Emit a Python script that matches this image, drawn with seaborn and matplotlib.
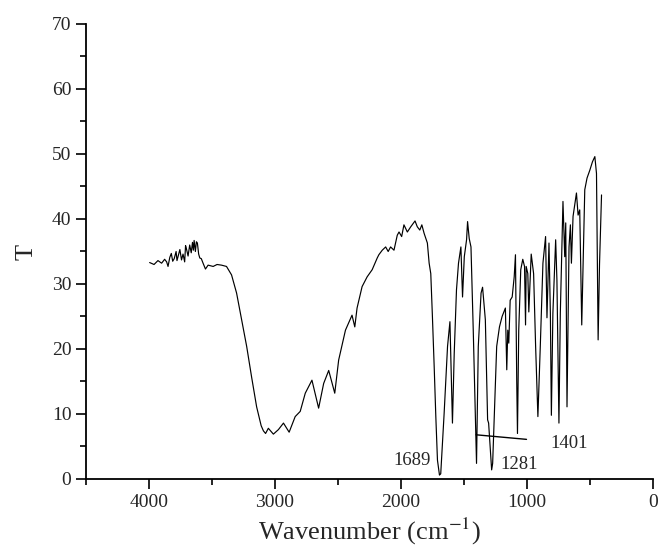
import pandas as pd
import matplotlib.pyplot as plt
import seaborn as sns
from matplotlib.ticker import MultipleLocator

# IR spectrum, points
wavenumber = [3995, 3960, 3929, 3900, 3876, 3860, 3849, 3835, 3823, 3812, 3800, 3785, 3778, 3770,
              3755, 3742, 3730, 3717, 3710, 3704, 3690, 3677, 3665, 3655, 3648, 3642, 3632, 3624,
              3616, 3606, 3597, 3585, 3571, 3552, 3531, 3491, 3460, 3425, 3385, 3345, 3305, 3265,
              3225, 3186, 3146, 3110, 3092, 3075, 3053, 3013, 2973, 2933, 2888, 2840, 2800, 2760,
              2707, 2654, 2614, 2574, 2526, 2495, 2441, 2389, 2367, 2349, 2309, 2269, 2229, 2189,
              2176, 2149, 2122, 2102, 2083, 2056, 2030, 2016, 1995, 1977, 1950, 1923, 1889, 1871,
              1851, 1835, 1817, 1791, 1777, 1764, 1751, 1737, 1724, 1711, 1695, 1685, 1658, 1631,
              1612, 1592, 1578, 1560, 1544, 1525, 1512, 1498, 1480, 1472, 1459, 1445, 1427, 1401,
              1387, 1365, 1353, 1331, 1313, 1305, 1281, 1273, 1259, 1241, 1219, 1198, 1172, 1161,
              1153, 1145, 1134, 1118, 1102, 1092, 1082, 1076, 1066, 1050, 1034, 1020, 1012, 1007,
              994, 986, 967, 948, 932, 914, 895, 874, 853, 842, 826, 815, 807, 795,
              773, 763, 747, 736, 715, 701, 693, 683, 667, 656, 648, 635, 608, 595,
              582, 566, 542, 524, 502, 481, 462, 449, 436, 425, 409]
transmittance = [33.3, 33.0, 33.6, 33.2, 33.8, 33.4, 32.7, 34.1, 34.7, 33.5, 33.9, 35.0, 33.6, 34.2,
                 35.3, 33.7, 34.6, 33.4, 35.9, 35.5, 34.3, 36.0, 34.8, 36.4, 35.2, 36.7, 35.0, 36.5,
                 36.3, 34.6, 34.0, 33.9, 33.2, 32.3, 32.9, 32.7, 33.0, 32.9, 32.7, 31.4, 28.6, 24.5,
                 20.4, 15.7, 11.1, 8.2, 7.4, 7.0, 7.8, 6.9, 7.6, 8.6, 7.2, 9.6, 10.4, 13.2,
                 15.2, 10.9, 14.7, 16.7, 13.2, 18.3, 22.9, 25.2, 23.4, 26.3, 29.6, 31.1, 32.2, 34.0,
                 34.5, 35.2, 35.7, 35.0, 35.7, 35.2, 37.5, 38.0, 37.3, 39.1, 38.0, 38.8, 39.7, 38.8,
                 38.3, 39.1, 37.8, 36.3, 33.2, 31.6, 25.0, 17.3, 9.6, 2.9, 0.6, 0.8, 10.1, 20.4,
                 24.2, 8.6, 19.3, 29.1, 33.2, 35.7, 28.0, 34.2, 36.8, 39.6, 37.0, 35.7, 22.9, 2.4,
                 20.4, 28.6, 29.5, 24.5, 9.1, 8.6, 1.4, 2.4, 10.1, 20.4, 23.4, 25.0, 26.3, 16.8,
                 22.9, 20.9, 27.5, 28.0, 31.1, 34.5, 15.2, 7.0, 22.9, 32.2, 33.8, 32.7, 23.7, 32.7,
                 31.6, 25.7, 34.6, 31.6, 20.4, 9.6, 20.4, 33.2, 37.3, 24.8, 36.3, 25.5, 9.8, 25.5,
                 36.8, 30.6, 8.6, 25.5, 42.7, 34.2, 39.4, 11.1, 35.7, 39.1, 33.2, 40.4, 44.0, 40.6,
                 41.4, 23.7, 44.5, 46.3, 47.5, 48.8, 49.6, 47.0, 21.4, 33.0, 43.7]

peak_labels = ["1689", "1401", "1281"]
peak_x = [1912, 665, 1064]
peak_y = [2.9, 5.5, 2.3]

df = pd.DataFrame({"Wavenumber": wavenumber, "T": transmittance})

sns.set_style("ticks")
plt.rcParams['font.family'] = ['Liberation Serif', 'DejaVu Serif']
plt.rcParams['mathtext.fontset'] = 'stix'
plt.rcParams['xtick.direction'] = 'out'
plt.rcParams['ytick.direction'] = 'out'

fig = plt.figure(figsize=(6.59, 5.58), dpi=100)
ax = fig.add_axes([0.1305, 0.1416, 0.8605, 0.8154])

sns.lineplot(x="Wavenumber", y="T", data=df, sort=False, color="black", linewidth=0.85, ax=ax)

ax.set_xlim(4500, 0)
ax.set_ylim(0, 70)
ax.xaxis.set_major_locator(MultipleLocator(1000))
ax.xaxis.set_minor_locator(MultipleLocator(500))
ax.yaxis.set_major_locator(MultipleLocator(10))
ax.yaxis.set_minor_locator(MultipleLocator(5))
ax.tick_params(which='major', length=7, width=1.2, labelsize=14, color='black')
ax.tick_params(which='minor', length=4, width=1.2, color='black')
for s in ['left', 'bottom']:
    ax.spines[s].set_linewidth(1.3)
    ax.spines[s].set_color('black')
ax.spines['top'].set_visible(False)
ax.spines['right'].set_visible(False)

ax.set_xlabel("Wavenumber (cm$^{-1}$)", fontsize=19)
ax.set_ylabel("T", fontsize=19, labelpad=10)

ax.text(peak_x[0], peak_y[0], peak_labels[0], fontsize=13.5, ha='center', va='center')
ax.text(peak_x[2], peak_y[2], peak_labels[2], fontsize=13.5, ha='center', va='center')
ax.annotate(peak_labels[1], xy=(1405, 6.8), xytext=(peak_x[1], peak_y[1]), fontsize=13.5,
            ha='center', va='center',
            arrowprops=dict(arrowstyle='-', color='black', lw=1, shrinkA=15, shrinkB=0))

plt.savefig("out.png", dpi=100)
